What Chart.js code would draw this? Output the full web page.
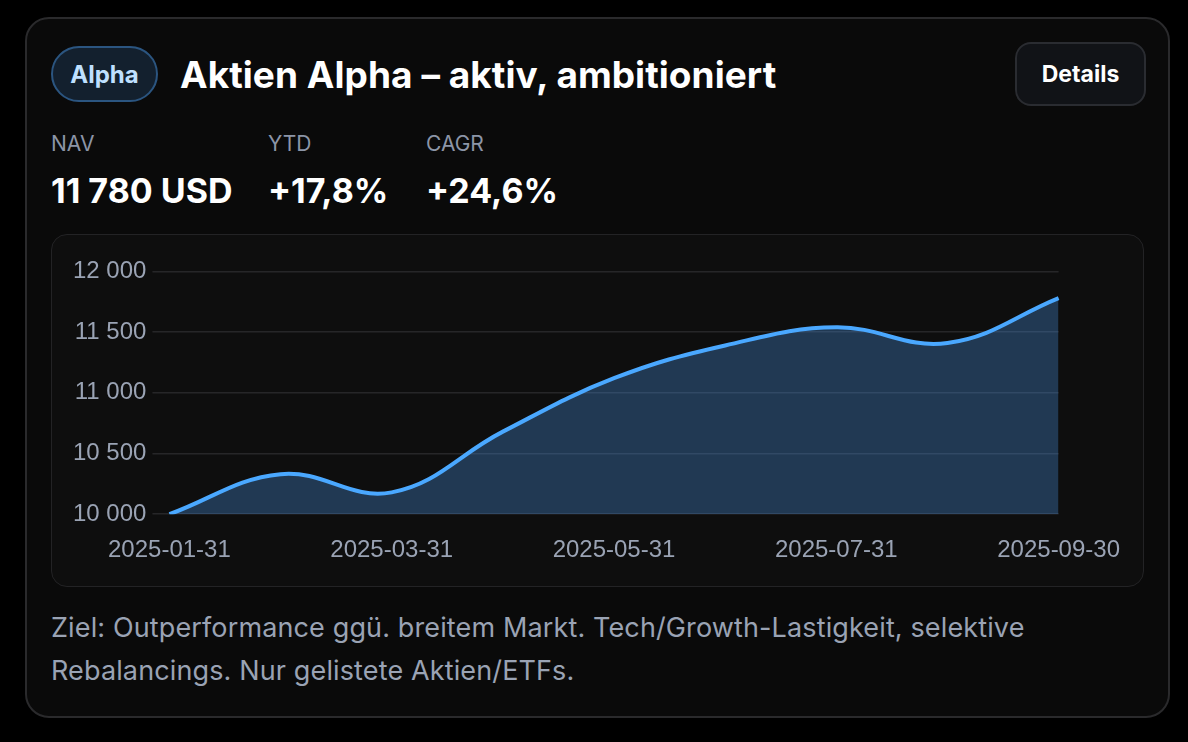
<!DOCTYPE html>
<html lang="de">
<head>
<meta charset="utf-8">
<script src="https://cdn.jsdelivr.net/npm/chart.js@4.4.1/dist/chart.umd.min.js"></script>
<style>
  html, body { margin: 0; padding: 0; background: #000; width: 1188px; height: 742px; overflow: hidden; }
  body { font-family: Inter, "Liberation Sans", sans-serif; color: #fff; }
  .card { position: absolute; left: 25px; top: 17px; width: 1141px; height: 697px;
          border: 2px solid #2a2a2c; border-radius: 24px; background: #0a0a0a; }
  .badge { position: absolute; left: 51px; top: 46px; width: 107px; height: 56px; box-sizing: border-box;
           border: 2px solid #2b5580; border-radius: 28px; background: #13202e; color: #bfe0ff;
           font-weight: 700; font-size: 24px; display: flex; align-items: center; justify-content: center; }
  .title { position: absolute; left: 180px; top: 56px; font-size: 37px; line-height: 1; font-weight: 700;
           letter-spacing: 0.05px; white-space: nowrap; }
  .btn { position: absolute; left: 1015px; top: 42px; width: 131px; height: 64px; box-sizing: border-box;
         border: 2px solid #2a2c31; border-radius: 16px; background: #111317; color: #fff;
         font-weight: 700; font-size: 23px; display: flex; align-items: center; justify-content: center; }
  .lbl { position: absolute; top: 133px; font-size: 21px; line-height: 1; color: #8c95a7; }
  .val { position: absolute; top: 174px; font-size: 34px; line-height: 1; font-weight: 700; white-space: nowrap; }
  .box { position: absolute; left: 51px; top: 234px; width: 1091px; height: 351px;
         border: 1px solid #232325; border-radius: 16px; background: #0e0e0e; }
  .chartwrap { position: absolute; left: 67px; top: 251px; width: 1067px; height: 328px; }
  .desc { position: absolute; left: 51px; top: 606px; width: 1100px; font-size: 27px; line-height: 43px;
          letter-spacing: 0.13px; color: #9aa3b4; white-space: nowrap; }
</style>
</head>
<body>
<div class="card"></div>
<div class="badge">Alpha</div>
<div class="title">Aktien Alpha – aktiv, ambitioniert</div>
<div class="btn">Details</div>

<div class="lbl" style="left:51px">NAV</div>
<div class="lbl" style="left:268px">YTD</div>
<div class="lbl" style="left:426px">CAGR</div>
<div class="val" style="left:51px">11 780 USD</div>
<div class="val" style="left:268px">+17,8%</div>
<div class="val" style="left:426px">+24,6%</div>

<div class="box"></div>
<div class="chartwrap"><canvas id="navChart"></canvas></div>

<div class="desc">Ziel: Outperformance ggü. breitem Markt. Tech/Growth-Lastigkeit, selektive<br>Rebalancings. Nur gelistete Aktien/ETFs.</div>

<script>
const dates = ['2025-01-31', '2025-02-28', '2025-03-31', '2025-04-30', '2025-05-31',
               '2025-06-30', '2025-07-31', '2025-08-31', '2025-09-30'];
const navValues = [10000, 10330, 10180, 10680, 11120, 11390, 11540, 11410, 11780];
const yTicks = [10000, 10500, 11000, 11500, 12000];

function fmt(v) {
    return v.toString().replace(/\B(?=(\d{3})+(?!\d))/g, ' ');
}

const ctx = document.getElementById('navChart');
new Chart(ctx, {
    type: 'line',
    data: {
        labels: dates,
        datasets: [{
            data: navValues,
            borderColor: '#4aa8ff',
            backgroundColor: 'rgba(74, 150, 230, 0.32)',
            borderWidth: 4,
            fill: true,
            tension: 0.4,
            pointRadius: 0
        }]
    },
    options: {
        responsive: true,
        maintainAspectRatio: false,
        animation: false,
        layout: { padding: 0 },
        plugins: { legend: { display: false }, tooltip: { enabled: false } },
        scales: {
            x: {
                grid: { display: false },
                border: { display: false },
                ticks: { color: '#9aa3b4', font: { size: 24, family: 'Liberation Sans' },
                         maxRotation: 0, autoSkip: true, padding: 14 }
            },
            y: {
                min: yTicks[0],
                max: yTicks[yTicks.length - 1],
                afterBuildTicks: axis => { axis.ticks = yTicks.map(v => ({ value: v })); },
                grid: { color: '#262628', lineWidth: 1.5, tickLength: 17 },
                border: { display: false },
                ticks: { color: '#9aa3b4', font: { size: 24, family: 'Liberation Sans' },
                         padding: 6, callback: v => fmt(v) }
            }
        }
    }
});
</script>
</body>
</html>
